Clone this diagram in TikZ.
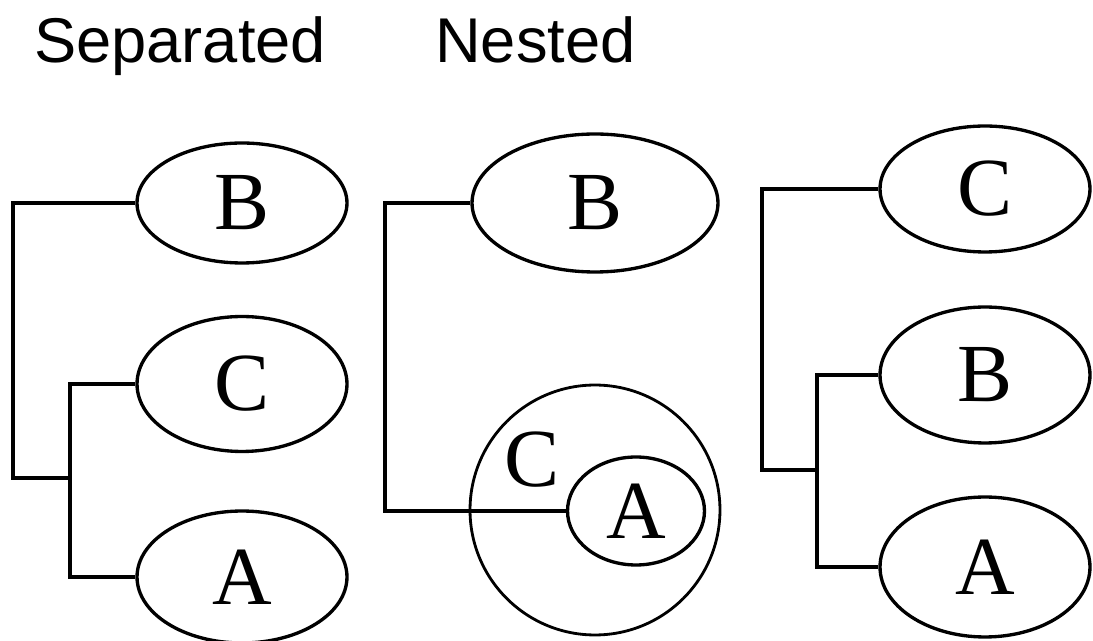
\documentclass[tikz,border=0pt]{standalone}
\usepackage{fontspec}
\setmainfont{Liberation Serif}
\newfontfamily\titlefont{Liberation Sans}
\usetikzlibrary{shapes.geometric}

\begin{document}
\begin{tikzpicture}[x=0.02cm, y=-0.02cm,
	taxon/.style={ellipse, draw, line width=1.9pt, inner sep=0pt, font=\fontsize{47}{47}\selectfont},
	cluster/.style={circle, draw, line width=1.6pt, inner sep=0pt},
	branch/.style={line width=2.5pt},
	titolo/.style={font=\titlefont\fontsize{36}{36}\selectfont, anchor=base west}]

	\useasboundingbox (0,0) rectangle (1093,641);

	% titoli
	\node[titolo] (tsep) at (28,63) {Separated};
	\node[titolo] (tnest) at (429,63) {Nested};

	% separated
	\node[taxon, minimum width=4.2cm, minimum height=2.4cm] (B1) at (242,203) {B};
	\node[taxon, minimum width=4.2cm, minimum height=2.7cm] (C1) at (242,384) {C};
	\node[taxon, minimum width=4.2cm, minimum height=2.64cm] (A1) at (242,577) {A};
	\coordinate (r1) at (13,478);
	\coordinate (m1) at (70,478);
	\draw[branch] (B1.west) -| (r1) -- (m1);
	\draw[branch] (C1.west) -| (m1) |- (A1.west);

	% nested
	\node[taxon, minimum width=4.92cm, minimum height=2.76cm] (B2) at (595,203) {B};
	\node[cluster, minimum size=5cm] (C2) at (595,510) {};
	\node[font=\fontsize{47}{47}\selectfont] (C2lab) at (532,460) {C};
	\node[taxon, minimum width=2.74cm, minimum height=2.16cm] (A2) at (636,511) {A};
	\coordinate (r2) at (385,511);
	\draw[branch, line width=2pt] (B2.west) -| (r2) -- (A2.west);

	% terza topologia
	\node[taxon, minimum width=4.2cm, minimum height=2.52cm] (C3) at (985,189) {C};
	\node[taxon, minimum width=4.2cm, minimum height=2.72cm] (B3) at (985,375) {B};
	\node[taxon, minimum width=4.2cm, minimum height=2.8cm] (A3) at (985,567) {A};
	\coordinate (r3) at (762,470);
	\coordinate (m3) at (817,470);
	\draw[branch] (C3.west) -| (r3) -- (m3);
	\draw[branch] (B3.west) -| (m3) |- (A3.west);
\end{tikzpicture}
\end{document}
